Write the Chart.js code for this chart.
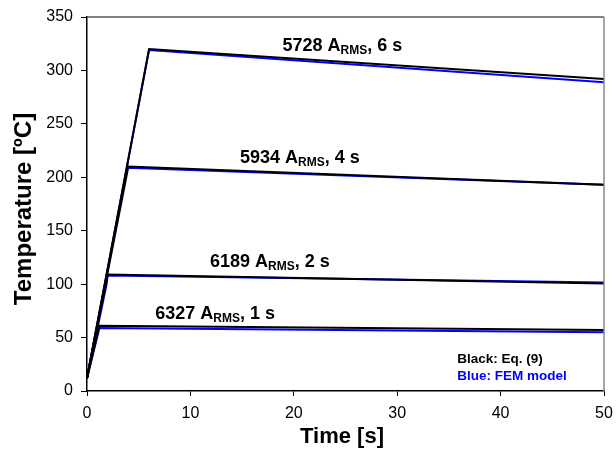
<!DOCTYPE html>
<html>
<head>
<meta charset="utf-8">
<script src="https://cdn.jsdelivr.net/npm/chart.js@4.4.0/dist/chart.umd.min.js"></script>
<style>
html, body { margin: 0; padding: 0; background: #fff; }
#wrap { width: 616px; height: 449px; }
</style>
</head>
<body>
<div id="wrap"><canvas id="chart"></canvas></div>
<script>
// time [s] and temperature [ºC]
var eq1sTime = [0, 1.2, 50];
var eq1sTemp = [12, 61, 57];
var fem1sTime = [0, 1.2, 50];
var fem1sTemp = [12, 59, 55];

var eq2sTime = [0, 2, 50];
var eq2sTemp = [12, 109, 100.5];
var fem2sTime = [0, 1.9, 2, 50];
var fem2sTemp = [12, 100, 108, 101.5];

var eq4sTime = [0, 4, 50];
var eq4sTemp = [12, 210, 193];
var fem4sTime = [0, 3.9, 50];
var fem4sTemp = [12, 209, 193];

var eq6sTime = [0, 6, 50];
var eq6sTemp = [12, 320, 292];
var fem6sTime = [0, 6, 50];
var fem6sTemp = [12, 319, 289];

var currents = ["6327", "6189", "5934", "5728"];
var durations = ["1 s", "2 s", "4 s", "6 s"];

var xTicks = [0, 10, 20, 30, 40, 50];
var yTicks = [0, 50, 100, 150, 200, 250, 300, 350];

function pts(t, v) {
	return t.map(function (x, i) { return { x: x, y: v[i] }; });
}

function line(t, v, color, order) {
	return {
		data: pts(t, v),
		borderColor: color,
		backgroundColor: color,
		borderWidth: 2,
		pointRadius: 0,
		tension: 0,
		fill: false,
		order: order
	};
}

// where the curve labels sit, in data units
var labelPos = [
	{ x: 6.6, y: 72 },
	{ x: 11.9, y: 121 },
	{ x: 14.8, y: 218 },
	{ x: 18.9, y: 323 }
];

var FONT = "'Liberation Sans', Arial, sans-serif";

var textPlugin = {
	id: "texts",
	afterDraw: function (chart) {
		var ctx = chart.ctx;
		var a = chart.chartArea;
		var xs = chart.scales.x;
		var ys = chart.scales.y;
		ctx.save();

		// frame top and right
		ctx.lineWidth = 1.5;
		ctx.strokeStyle = "#555";
		ctx.beginPath();
		ctx.moveTo(a.left, a.top);
		ctx.lineTo(a.right, a.top);
		ctx.stroke();
		ctx.strokeStyle = "#888";
		ctx.beginPath();
		ctx.moveTo(a.right, a.top);
		ctx.lineTo(a.right, a.bottom);
		ctx.stroke();

		// curve labels with RMS subscript
		ctx.fillStyle = "#000";
		ctx.textBaseline = "middle";
		ctx.textAlign = "left";
		for (var i = 0; i < currents.length; i++) {
			var px = xs.getPixelForValue(labelPos[i].x);
			var py = ys.getPixelForValue(labelPos[i].y);
			ctx.font = "bold 18px " + FONT;
			var s1 = currents[i] + " A";
			ctx.fillText(s1, px, py);
			px += ctx.measureText(s1).width;
			ctx.font = "bold 12px " + FONT;
			ctx.fillText("RMS", px, py + 5);
			px += ctx.measureText("RMS").width;
			ctx.font = "bold 18px " + FONT;
			ctx.fillText(", " + durations[i], px, py);
		}

		// note in the corner
		ctx.font = "bold 13.5px " + FONT;
		ctx.fillStyle = "#000";
		ctx.fillText("Black: Eq. (9)", xs.getPixelForValue(35.8), ys.getPixelForValue(30));
		ctx.fillStyle = "#0000ff";
		ctx.fillText("Blue: FEM model", xs.getPixelForValue(35.8), ys.getPixelForValue(14));

		// axis titles
		ctx.fillStyle = "#000";
		ctx.textAlign = "center";
		ctx.font = "bold 22px " + FONT;
		ctx.fillText("Time [s]", 342, 437);
		ctx.translate(24, 209);
		ctx.rotate(-Math.PI / 2);
		ctx.font = "bold 24px " + FONT;
		ctx.fillText("Temperature [ºC]", 0, 0);
		ctx.restore();
	}
};

var tickFont = { family: FONT, size: 16 };

var chart = new Chart(document.getElementById("chart"), {
	type: "line",
	data: {
		datasets: [
			line(eq1sTime, eq1sTemp, "#000", 1),
			line(eq2sTime, eq2sTemp, "#000", 1),
			line(eq4sTime, eq4sTemp, "#000", 1),
			line(eq6sTime, eq6sTemp, "#000", 1),
			line(fem1sTime, fem1sTemp, "#0000ff", 2),
			line(fem2sTime, fem2sTemp, "#0000ff", 2),
			line(fem4sTime, fem4sTemp, "#0000ff", 2),
			line(fem6sTime, fem6sTemp, "#0000ff", 2)
		]
	},
	options: {
		responsive: true,
		maintainAspectRatio: false,
		animation: false,
		layout: { padding: { left: 0, right: 12, top: 17, bottom: 0 } },
		plugins: { legend: { display: false }, tooltip: { enabled: false } },
		scales: {
			x: {
				type: "linear",
				min: xTicks[0],
				max: xTicks[xTicks.length - 1],
				afterBuildTicks: function (s) { s.ticks = xTicks.map(function (v) { return { value: v }; }); },
				afterFit: function (s) {
					s.height = 58;
					s.paddingRight = 0;
					s.paddingLeft = 0;
				},
				ticks: { font: tickFont, color: "#000", padding: 8, maxRotation: 0 },
				grid: { drawOnChartArea: false, drawTicks: true, tickLength: 5, color: "#000" },
				border: { color: "#000", width: 1.5 }
			},
			y: {
				type: "linear",
				min: yTicks[0],
				max: yTicks[yTicks.length - 1],
				afterBuildTicks: function (s) { s.ticks = yTicks.map(function (v) { return { value: v }; }); },
				afterFit: function (s) {
					s.width = 87;
					s.paddingTop = 0;
					s.paddingBottom = 0;
				},
				ticks: { font: tickFont, color: "#000", padding: 8 },
				grid: { drawOnChartArea: false, drawTicks: true, tickLength: 6, color: "#000" },
				border: { color: "#000", width: 1.5 }
			}
		}
	},
	plugins: [textPlugin]
});
</script>
</body>
</html>
